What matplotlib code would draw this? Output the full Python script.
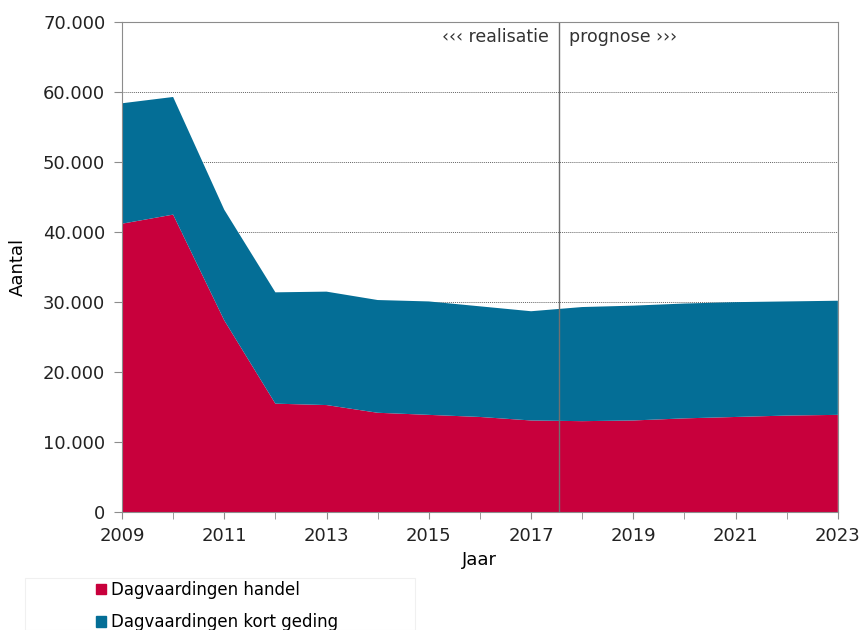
import matplotlib
matplotlib.use("Agg")
import matplotlib.pyplot as plt
from matplotlib.ticker import FuncFormatter, MultipleLocator
from matplotlib.patches import Patch, Rectangle

years = [2009, 2010, 2011, 2012, 2013, 2014, 2015, 2016, 2017, 2018, 2019, 2020, 2021, 2022, 2023]
handel = [41200, 42500, 27400, 15500, 15300, 14200, 13900, 13600, 13100, 13000, 13100, 13400, 13600, 13800, 13900]
totaal = [58400, 59300, 43200, 31400, 31500, 30300, 30100, 29400, 28700, 29300, 29500, 29800, 30000, 30100, 30200]
kort_geding = [t - h for t, h in zip(totaal, handel)]
grens = 2017.55

red = "#c8003c"
blue = "#046e96"

plt.rcParams['font.family'] = ['DejaVu Sans']
fig = plt.figure(figsize=(8.62, 6.30), dpi=100)
ax = fig.add_axes([0.1415, 0.187, 0.8305, 0.778])

ax.stackplot(years, handel, kort_geding, colors=[red, blue], linewidth=0)
ax.axvline(grens, color="#707070", lw=1)

ax.set_xlim(2009, 2023)
ax.set_ylim(0, 70000)
ax.yaxis.set_major_locator(MultipleLocator(10000))
ax.yaxis.set_major_formatter(FuncFormatter(lambda v, p: "0" if v == 0 else f"{int(v):,}".replace(",", ".")))
ax.set_xticks(range(2009, 2024, 2))
ax.set_xticks(range(2009, 2024), minor=True)
ax.grid(axis="y", color="#666666", ls=(0, (1, 1)), lw=0.7)
ax.set_axisbelow(True)
for s in ax.spines.values():
    s.set_color("#8c8c8c")
ax.tick_params(axis="both", which="both", color="#8c8c8c", labelsize=13, labelcolor="#222222")
ax.tick_params(axis="x", which="both", length=5, pad=6)
ax.tick_params(axis="y", length=6, pad=6)

ax.set_xlabel("Jaar", fontsize=13, labelpad=4)
ax.set_ylabel("Aantal", fontsize=13, labelpad=12)

ax.text(grens - 0.2, 67800, "\u2039\u2039\u2039 realisatie", ha="right", va="center", fontsize=12.5, color="#333333")
ax.text(grens + 0.2, 67800, "prognose \u203a\u203a\u203a", ha="left", va="center", fontsize=12.5, color="#333333")

# faint box around the legend
fig.patches.append(Rectangle((25 / 862, 0), 390 / 862, 52 / 630, transform=fig.transFigure,
                             facecolor="white", edgecolor="#f0f0f0", lw=0.8, zorder=0))
handles = [Patch(color=red), Patch(color=blue)]
leg = fig.legend(handles, ["Dagvaardingen handel", "Dagvaardingen kort geding"],
                 loc="center left", bbox_to_anchor=(96 / 862, 24 / 630), ncol=1, fontsize=12,
                 handlelength=0.6, handleheight=0.6, handletextpad=0.3, labelspacing=0.85,
                 frameon=False, borderpad=0, borderaxespad=0)

fig.savefig("out.png", dpi=100)
